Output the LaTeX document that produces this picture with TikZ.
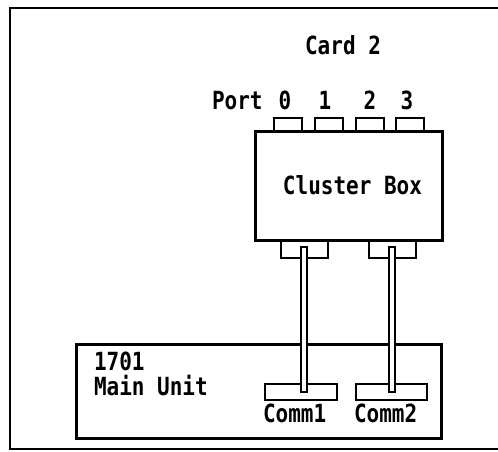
\documentclass[tikz,border=0pt]{standalone}
\usepackage{fontspec}
\newfontfamily\pixfont[FakeStretch=0.84]{DejaVu Sans Mono}
\begin{document}
\begin{tikzpicture}[x=1pt,y=-1pt,
  every node/.style={inner sep=0pt, outer sep=0pt},
  lbl/.style={font=\pixfont\bfseries\fontsize{25}{29}\selectfont, text=black},
  heavybox/.style={draw=black, line width=3.2pt, fill=white},
  tabbox/.style={draw=black, line width=2pt, fill=white},
  cable/.style={draw=black, line width=1.5pt, fill=white}]
\useasboundingbox (0,0) rectangle (498,452);
% outer frame (right side runs off the picture)
\draw[line width=2.5pt] (505,8) -- (10,8) -- (10,449) -- (505,449);
% top port tabs
\foreach \n/\x in {0/287.5,1/329,2/370,3/410}
  \node[tabbox, minimum width=28pt, minimum height=18pt] (port\n) at (\x,126.75) {};
% bottom tabs
\node[tabbox, minimum width=47pt, minimum height=22pt] (tabA) at (304,247) {};
\node[tabbox, minimum width=47pt, minimum height=22pt] (tabB) at (392,247) {};
% cluster box
\node[heavybox, minimum width=187pt, minimum height=109pt] (cluster) at (349,186) {};
\node[lbl, anchor=base] (clusterlbl) at (352.5,194.5) {Cluster Box};
% main unit
\node[heavybox, minimum width=365pt, minimum height=94pt] (main) at (259,391.5) {};
% comm ports
\node[tabbox, minimum width=72.5pt, minimum height=16.5pt] (comm1) at (301,392) {};
\node[tabbox, minimum width=71.5pt, minimum height=16.5pt] (comm2) at (391.5,392) {};
% cables
\draw[cable] ([xshift=-3pt]tabA.center) rectangle ([xshift=3pt]tabA.center |- comm1.center);
\draw[cable] ([xshift=-3pt]tabB.center) rectangle ([xshift=3pt]tabB.center |- comm2.center);
% labels
\node[lbl, anchor=base] (card) at (343,55) {Card 2};
\node[lbl, anchor=base west] (portlbl) at (212,110) {Port};
\node[lbl, anchor=base] (p0) at (285,110) {0};
\node[lbl, anchor=base] (p1) at (325,110) {1};
\node[lbl, anchor=base] (p2) at (370,110) {2};
\node[lbl, anchor=base] (p3) at (407,110) {3};
\node[lbl, anchor=base west] (num) at (94,370) {1701};
\node[lbl, anchor=base west] (mainlbl) at (94,395) {Main Unit};
\node[lbl, anchor=base west] (c1lbl) at (263,422) {Comm1};
\node[lbl, anchor=base west] (c2lbl) at (354,422) {Comm2};
\end{tikzpicture}
\end{document}
